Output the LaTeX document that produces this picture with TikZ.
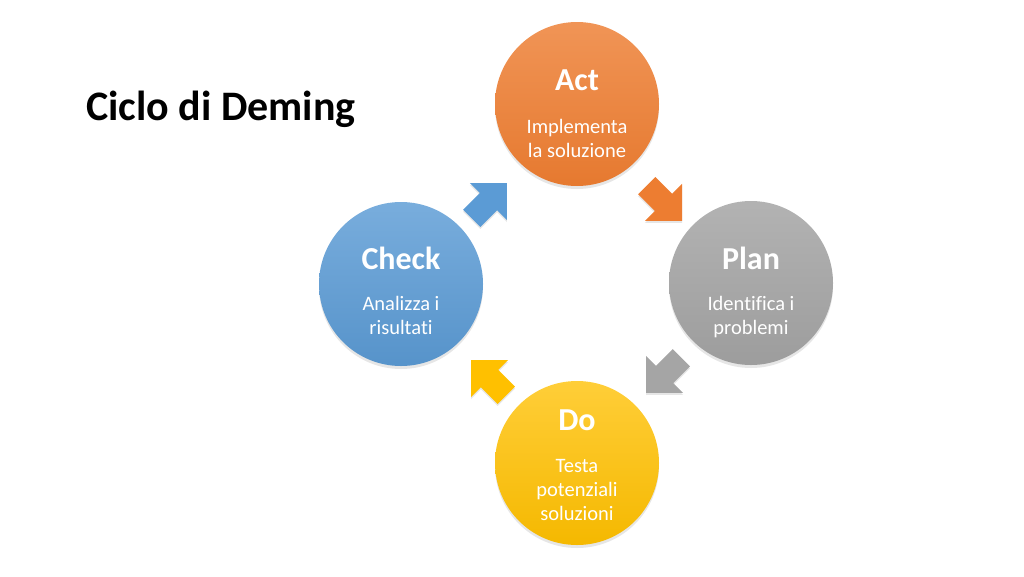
\documentclass[tikz,border=0pt]{standalone}
\usepackage{fontspec}
\setmainfont{Carlito}[Ligatures=CommonOff]
\usetikzlibrary{shapes.arrows,shadows,positioning}

\definecolor{actorange}{HTML}{ED7D31}
\definecolor{plangrey}{HTML}{A5A5A5}
\definecolor{dogold}{HTML}{FFC000}
\definecolor{checkblue}{HTML}{5B9BD5}

\begin{document}
\begin{tikzpicture}[x=1pt,y=-1pt,
  phase/.style={circle,minimum size=164pt,inner sep=0pt,
    drop shadow={shadow xshift=0pt,shadow yshift=-3pt,opacity=0.2}},
  phasetitle/.style={text=white,inner sep=0pt,font=\fontsize{32}{36}\selectfont\bfseries},
  phasetext/.style={text=white,inner sep=0pt,align=center,font=\fontsize{20.5}{24}\selectfont},
  turn/.style={single arrow,minimum height=50pt,inner xsep=0pt,inner ysep=12pt,
    single arrow head extend=14pt,single arrow tip angle=90,
    drop shadow={shadow xshift=0pt,shadow yshift=-2pt,opacity=0.2}}]
\useasboundingbox (0,0) rectangle (1024,576);

% title
\node[anchor=base,font=\fontsize{42}{48}\selectfont\bfseries] (title) at (221,120) {Ciclo di Deming};

% the four phases
\node[phase,top color=actorange!82!white,bottom color=actorange!97!black] (act) at (577,104) {};
\node[phase,top color=plangrey!85!white,bottom color=plangrey!95!black] (plan) at (751,283) {};
\node[phase,top color=dogold!78!white,bottom color=dogold!96!black] (do) at (577,463) {};
\node[phase,top color=checkblue!82!white,bottom color=checkblue!95!black] (check) at (401,284) {};

% labels inside the circles
\node[phasetitle] (act title) at ([yshift=24pt]act.center) {Act};
\node[phasetext,below=28pt of act title] (act text) {Implementa\\la soluzione};

\node[phasetitle] (plan title) at ([yshift=25pt]plan.center) {Plan};
\node[phasetext,below=27pt of plan title] (plan text) {Identifica i\\problemi};

\node[phasetitle] (do title) at ([yshift=43pt]do.center) {Do};
\node[phasetext,below=28pt of do title] (do text) {Testa\\potenziali\\soluzioni};

\node[phasetitle] (check title) at ([yshift=26pt]check.center) {Check};
\node[phasetext,below=27pt of check title] (check text) {Analizza i\\risultati};

% block arrows between the phases
\node[turn,fill=actorange,rotate=-45] (act to plan) at (660,199) {};
\node[turn,fill=plangrey,rotate=-135] (plan to do) at (668,371) {};
\node[turn,fill=dogold,rotate=135] (do to check) at (493,382) {};
\node[turn,fill=checkblue,rotate=45] (check to act) at (485,205) {};
\end{tikzpicture}
\end{document}
